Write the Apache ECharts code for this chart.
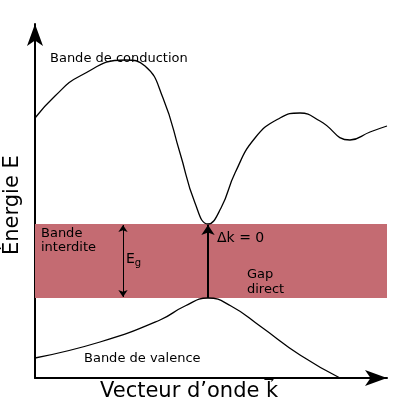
<!DOCTYPE html>
<html lang="fr">
<head>
<meta charset="UTF-8">
<script src="https://cdn.jsdelivr.net/npm/echarts@6/dist/echarts.min.js"></script>
<style>
html,body{margin:0;padding:0;background:#fff}
#c{width:412px;height:412px}
</style>
</head>
<body>
<div id="c"></div>
<script>
// points en unités du diagramme (k, E)
var conduction = [[0,260],[20,282],[45,302],[90,318],[110,312],[128,280],[145,225],[160,175],[173,154],[186,170],[200,205],[220,240],[245,260],[265,265],[285,257],[315,238],[335,246],[352,252]];
var valence = [[0,20],[65,36],[125,58],[150,72],[173,80],[196,72],[225,52],[265,23],[305,0]];
var bandGap = [80, 154];
var kGap = 173;
var kEg = 88;

var chart = echarts.init(document.getElementById('c'));
var F = 'DejaVu Sans';
function txt(left, top, s, size, extra) {
  var st = {text: s, fontSize: size, fontFamily: F, fill: '#000'};
  for (var k in extra) st[k] = extra[k];
  return {type: 'text', left: left, top: top, z: 100, style: st};
}
chart.setOption({
  animation: false,
  grid: {left: 35, right: 25, top: 24, bottom: 34},
  xAxis: {type: 'value', min: 0, max: 352, axisTick: {show: false}, axisLabel: {show: false}, splitLine: {show: false},
    axisLine: {lineStyle: {color: '#000', width: 2}, symbol: ['none', 'arrow'], symbolSize: [12, 22]}},
  yAxis: {type: 'value', min: 0, max: 354, axisTick: {show: false}, axisLabel: {show: false}, splitLine: {show: false},
    axisLine: {lineStyle: {color: '#000', width: 2}, symbol: ['none', 'arrow'], symbolSize: [12, 22]}},
  series: [
    {type: 'line', data: conduction, smooth: true, showSymbol: false, lineStyle: {color: '#000', width: 1.3},
      markArea: {silent: true, itemStyle: {color: '#c46b72'},
        data: [[{xAxis: 0, yAxis: bandGap[0]}, {xAxis: 352, yAxis: bandGap[1]}]]}},
    {type: 'line', data: valence, smooth: true, showSymbol: false, lineStyle: {color: '#000', width: 1.3}},
    {type: 'lines', coordinateSystem: 'cartesian2d', symbol: ['arrow', 'arrow'], symbolSize: 7,
      lineStyle: {color: '#000', width: 1, opacity: 1},
      data: [{coords: [[kEg, bandGap[0] + 1], [kEg, bandGap[1] - 1]]}], silent: true},
    {type: 'lines', coordinateSystem: 'cartesian2d', symbol: ['none', 'arrow'], symbolSize: 10,
      lineStyle: {color: '#000', width: 2, opacity: 1},
      data: [{coords: [[kGap, bandGap[0]], [kGap, bandGap[1] - 1]]}], silent: true}
  ],
  graphic: [
    txt(50, 52, 'Bande de conduction', 13),
    txt(84, 352, 'Bande de valence', 13),
    txt(41, 227, 'Bande\ninterdite', 13, {lineHeight: 14}),
    {type: 'text', left: 126, top: 252, z: 100, style: {text: '{a|E}{b|g}', fill: '#000',
      rich: {a: {fontSize: 14, fontFamily: F}, b: {fontSize: 10, fontFamily: F, padding: [9, 0, 0, 0]}}}},
    txt(217, 231, 'Δk = 0', 14),
    txt(247, 267, 'Gap\ndirect', 13, {align: 'center', lineHeight: 15}),
    txt(100, 381, 'Vecteur d\u2019onde k\u20D7', 21),
    {type: 'text', x: 2, y: 255, z: 100, rotation: Math.PI / 2,
      style: {text: 'Énergie E', fontSize: 21, fontFamily: F, fill: '#000'}}
  ]
});
</script>
</body>
</html>
